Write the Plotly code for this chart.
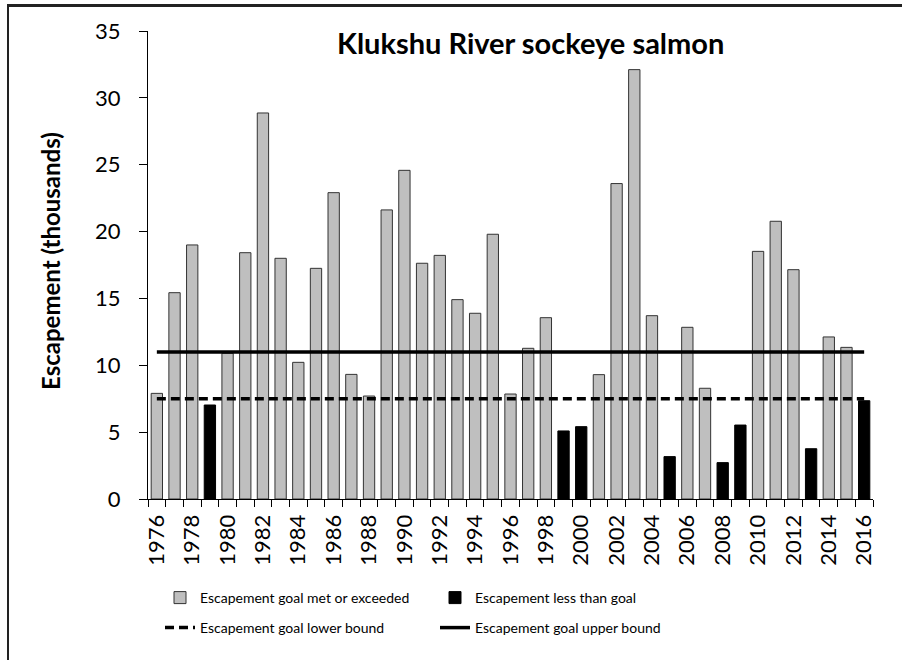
import plotly.graph_objects as go

years = list(range(1976, 2017))
escapement = [7.90, 15.43, 19.0, 7.03, 10.9, 18.42, 28.87, 18.0, 10.22, 17.25,
              22.91, 9.32, 7.70, 21.62, 24.58, 17.63, 18.22, 14.91, 13.89, 19.80,
              7.85, 11.27, 13.56, 5.09, 5.41, 9.30, 23.59, 32.11, 13.71, 3.17,
              12.84, 8.28, 2.72, 5.53, 18.52, 20.77, 17.15, 3.76, 12.12, 11.34, 7.35]
below_goal_years = [1979, 1999, 2000, 2005, 2008, 2009, 2013, 2016]
lower_bound = 7.5
upper_bound = 11.0

title_text = "Klukshu River sockeye salmon"
y_title = "Escapement (thousands)"
names = ["Escapement goal met or exceeded", "Escapement less than goal",
         "Escapement goal lower bound", "Escapement goal upper bound"]

cats = [str(y) for y in years]
met_vals = [v if y not in below_goal_years else None for y, v in zip(years, escapement)]
less_vals = [v if y in below_goal_years else None for y, v in zip(years, escapement)]

FONT = "Lato"

fig = go.Figure()
fig.add_trace(go.Bar(x=cats, y=met_vals, name=names[0], legend="legend",
                     marker=dict(color="#BFBFBF", line=dict(color="#333333", width=1))))
fig.add_trace(go.Bar(x=cats, y=less_vals, name=names[1], legend="legend",
                     marker=dict(color="#000000", line=dict(color="#000000", width=1))))
fig.add_trace(go.Scatter(x=cats, y=[lower_bound] * len(cats), mode="lines", name=names[2],
                         legend="legend2",
                         line=dict(color="#000000", width=3.5, dash="9px,5px")))
fig.add_trace(go.Scatter(x=cats, y=[upper_bound] * len(cats), mode="lines", name=names[3],
                         legend="legend2",
                         line=dict(color="#000000", width=3.5)))

L, R, T, B = 148, 29, 31, 161
W, H = 902, 660
pw, ph = W - L - R, H - T - B

def px_x(p):
    return (p - L) / pw

def px_y(p):
    return (H - B - p) / ph

leg_common = dict(orientation="h", xanchor="left", yanchor="middle",
                  entrywidth=230, entrywidthmode="pixels", traceorder="normal",
                  font=dict(size=14, family=FONT), bgcolor="rgba(0,0,0,0)", itemwidth=30)

fig.update_layout(
    width=W, height=H,
    margin=dict(l=L, r=R, t=T, b=B, autoexpand=False),
    paper_bgcolor="white", plot_bgcolor="white",
    barmode="overlay", bargap=0.36,
    font=dict(family=FONT, color="#000000"),
    showlegend=True,
    legend=dict(x=px_x(160), y=px_y(598), **leg_common),
    legend2=dict(x=px_x(160), y=px_y(628), **leg_common),
    xaxis=dict(type="category", tickson="boundaries", ticks="outside", ticklen=7,
               tickcolor="#000000", tickwidth=1,
               tickvals=cats, ticktext=[c if int(c) % 2 == 0 else "" for c in cats],
               tickangle=-90, tickfont=dict(size=22, family=FONT), ticklabelstandoff=6,
               showline=True, linecolor="#000000", linewidth=1,
               showgrid=False, zeroline=False, fixedrange=True),
    yaxis=dict(range=[0, 35], dtick=5, ticks="outside", ticklen=8, tickcolor="#000000",
               tickfont=dict(size=22, family=FONT), ticklabelstandoff=14,
               showline=True, linecolor="#000000",
               linewidth=1, showgrid=False, zeroline=False, fixedrange=True),
    annotations=[
        dict(text="<b>" + title_text + "</b>", xref="paper", yref="paper",
             x=px_x(530), y=px_y(42), xanchor="center", yanchor="middle",
             showarrow=False, font=dict(size=29, family=FONT)),
        dict(text="<b>" + y_title + "</b>", xref="paper", yref="paper",
             x=px_x(50), y=px_y(261), xanchor="center", yanchor="middle", textangle=-90,
             showarrow=False, font=dict(size=24, family=FONT)),
    ],
    shapes=[
        dict(type="rect", xref="paper", yref="paper", x0=px_x(7), x1=px_x(910),
             y0=px_y(7), y1=px_y(4), fillcolor="#222222", line=dict(width=0), layer="above"),
        dict(type="rect", xref="paper", yref="paper", x0=px_x(7), x1=px_x(9),
             y0=px_y(670), y1=px_y(4), fillcolor="#222222", line=dict(width=0), layer="above"),
    ],
)

fig.write_html("out.html", config={"displayModeBar": False, "staticPlot": True},
               post_script="document.body.style.margin='0';document.body.style.overflow='hidden';window.scrollTo(0,0);")
